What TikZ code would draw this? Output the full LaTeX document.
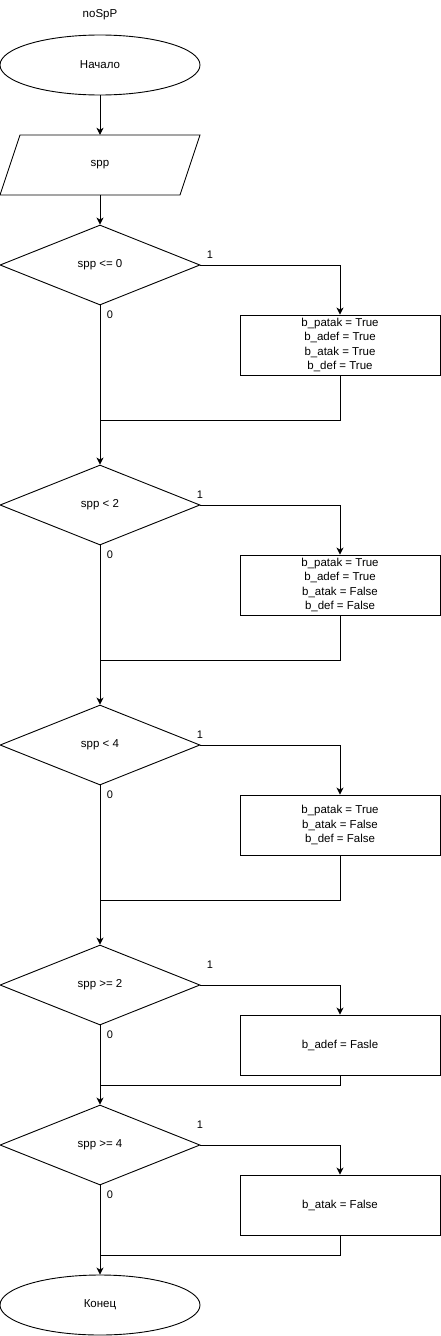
\documentclass[tikz,border=0pt]{standalone}
\usepackage{fontspec}
\setmainfont{Liberation Sans}
\usetikzlibrary{shapes.geometric,arrows.meta}
\begin{document}
\begin{tikzpicture}[x=1pt,y=-1pt,
  every node/.style={font=\fontsize{11.5}{14.5}\selectfont, inner sep=0pt},
  line/.style={line width=0.9pt},
  arr/.style={line, -{Stealth[length=7pt,width=7pt,inset=2pt]}},
  term/.style={ellipse, draw, line width=0.9pt, minimum width=200pt, minimum height=60pt},
  cond/.style={diamond, draw, line width=0.9pt, minimum width=200pt, minimum height=80pt},
  act/.style={rectangle, draw, line width=0.9pt, minimum width=200pt, minimum height=60pt, align=center},
  lbl/.style={font=\fontsize{11}{13}\selectfont}]
\useasboundingbox (0,0) rectangle (441,1336);
\node (title) at (100,15) {noSpP};
\node[term] (start) at (100,65) {Начало};
\node[minimum width=180pt, minimum height=60pt] (inp) at (100,165) {spp};
\draw[line] (20,135) -- (200,135) -- (180,195) -- (0,195) -- cycle;

\node[cond] (d1) at (100,265) {spp <= 0};
\node[act] (b1) at (340,345) {b\_patak = True\\b\_adef = True\\b\_atak = True\\b\_def = True};
\coordinate (m1) at (100,420);
\node[lbl] (l1a) at (210,255) {1};
\node[lbl] (l1b) at (110,315) {0};

\node[cond] (d2) at (100,505) {spp < 2};
\node[act] (b2) at (340,585) {b\_patak = True\\b\_adef = True\\b\_atak = False\\b\_def = False};
\coordinate (m2) at (100,660);
\node[lbl] (l2a) at (200,495) {1};
\node[lbl] (l2b) at (110,555) {0};

\node[cond] (d3) at (100,745) {spp < 4};
\node[act] (b3) at (340,825) {b\_patak = True\\b\_atak = False\\b\_def = False};
\coordinate (m3) at (100,900);
\node[lbl] (l3a) at (200,735) {1};
\node[lbl] (l3b) at (110,795) {0};

\node[cond] (d4) at (100,985) {spp >= 2};
\node[act] (b4) at (340,1045) {b\_adef = Fasle};
\coordinate (m4) at (100,1085);
\node[lbl] (l4a) at (210,965) {1};
\node[lbl] (l4b) at (110,1035) {0};

\node[cond] (d5) at (100,1145) {spp >= 4};
\node[act] (b5) at (340,1205) {b\_atak = False};
\coordinate (m5) at (100,1255);
\node[lbl] (l5a) at (200,1125) {1};
\node[lbl] (l5b) at (110,1195) {0};

\node[term] (end) at (100,1305) {Конец};

\draw[arr] (start) -- (inp.north);
\draw[arr] (inp.south) -- (d1);
\draw[arr] (d1.east) -| (b1.north);
\draw[line] (b1.south) |- (m1);
\draw[arr] (d1.south) -- (d2.north);
\draw[arr] (d2.east) -| (b2.north);
\draw[line] (b2.south) |- (m2);
\draw[arr] (d2.south) -- (d3.north);
\draw[arr] (d3.east) -| (b3.north);
\draw[line] (b3.south) |- (m3);
\draw[arr] (d3.south) -- (d4.north);
\draw[arr] (d4.east) -| (b4.north);
\draw[line] (b4.south) |- (m4);
\draw[arr] (d4.south) -- (d5.north);
\draw[arr] (d5.east) -| (b5.north);
\draw[line] (b5.south) |- (m5);
\draw[arr] (d5.south) -- (end.north);
\end{tikzpicture}
\end{document}
